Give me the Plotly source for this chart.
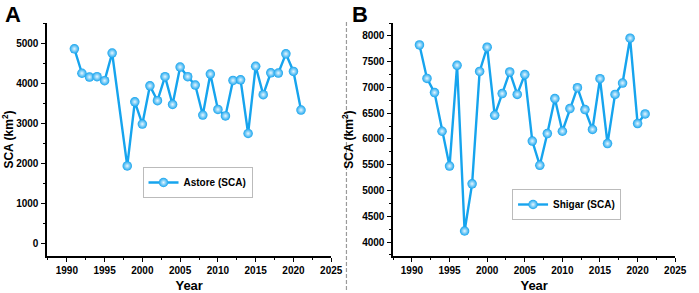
import plotly.graph_objects as go

years_a = [1991, 1992, 1993, 1994, 1995, 1996, 1998, 1999, 2000, 2001, 2002, 2003, 2004, 2005,
           2006, 2007, 2008, 2009, 2010, 2011, 2012, 2013, 2014, 2015, 2016, 2017, 2018, 2019,
           2020, 2021]
astore_sca = [4855, 4245, 4150, 4160, 4060, 4750, 1930, 3530, 2975, 3930, 3560, 4160, 3465, 4400,
              4160, 3950, 3200, 4225, 3340, 3180, 4065, 4080, 2740, 4420, 3710, 4255, 4250, 4730,
              4290, 3325]

years_b = list(range(1991, 2022))
shigar_sca = [7825, 7175, 6900, 6150, 5475, 7430, 4215, 5130, 7310, 7780, 6460, 6880, 7300, 6865,
              7250, 5960, 5490, 6105, 6785, 6150, 6590, 6995, 6570, 6185, 7170, 5910, 6865, 7085,
              7955, 6300, 6485]

xticks = [1990, 1995, 2000, 2005, 2010, 2015, 2020, 2025]
yticks_a = [0, 1000, 2000, 3000, 4000, 5000]
yticks_b = [4000, 4500, 5000, 5500, 6000, 6500, 7000, 7500, 8000]

BLUE = "#16A4EE"
FONT = "Liberation Sans"

W, H = 699, 293


def px(x):
    return x / W


def py(y):
    return 1 - y / H


fig = go.Figure()


def add_series(x, y, name, xa, ya, legend):
    fig.add_trace(go.Scatter(
        x=x, y=y, name=name, mode="lines+markers", xaxis=xa, yaxis=ya, legend=legend,
        line=dict(color=BLUE, width=2.4),
        marker=dict(size=9.5, color=BLUE, line=dict(width=0),
                    gradient=dict(type="radial", color="#E6F6FF")),
    ))


add_series(years_a, astore_sca, "<b>Astore (SCA)</b>", "x", "y", "legend")
add_series(years_b, shigar_sca, "<b>Shigar (SCA)</b>", "x2", "y2", "legend2")

axis_common = dict(
    showline=True, linecolor="black", linewidth=1.5, showgrid=False, zeroline=False,
    ticks="outside", ticklen=4, tickwidth=1.2, tickcolor="black",
    tickfont=dict(family=FONT, size=10, color="black", weight="bold"),
)

x_dom_a = [px(48), px(337)]
x_dom_b = [px(400), px(687)]
y_dom = [py(256), py(23)]

legend_common = dict(xanchor="left", yanchor="top", bgcolor="white", bordercolor="#BBBBBB",
                     borderwidth=1, font=dict(family=FONT, size=10, color="black"),
                     itemwidth=30, tracegroupgap=0)

fig.update_layout(
    width=W, height=H, margin=dict(l=0, r=0, t=0, b=0),
    paper_bgcolor="white", plot_bgcolor="white",
    font=dict(family=FONT, color="black"),
    xaxis=dict(domain=x_dom_a, range=[1987.4, 2025], tickvals=xticks, anchor="y",
               minor=dict(dtick=2.5, tick0=1990, ticks="outside", ticklen=2.5, tickcolor="black"),
               title=dict(text="<b>Year</b>", font=dict(size=13, family=FONT), standoff=6),
               **axis_common),
    yaxis=dict(domain=y_dom, range=[-320, 5500], tickvals=yticks_a, anchor="x",
               minor=dict(dtick=500, tick0=0, ticks="outside", ticklen=2.5, tickcolor="black"),
               title=dict(text="<b>SCA (km<sup>2</sup>)</b>", font=dict(size=12, family=FONT), standoff=6),
               ticklabelstandoff=1,
               **axis_common),
    xaxis2=dict(domain=x_dom_b, range=[1987.5, 2025], tickvals=xticks, anchor="y2",
                minor=dict(dtick=2.5, tick0=1990, ticks="outside", ticklen=2.5, tickcolor="black"),
                title=dict(text="<b>Year</b>", font=dict(size=13, family=FONT), standoff=6),
                **axis_common),
    yaxis2=dict(domain=y_dom, range=[3730, 8250], tickvals=yticks_b, anchor="x2",
                minor=dict(dtick=250, tick0=0, ticks="outside", ticklen=2.5, tickcolor="black"),
                title=dict(text="<b>SCA (km<sup>2</sup>)</b>", font=dict(size=12, family=FONT), standoff=6),
                ticklabelstandoff=1,
                **axis_common),
    legend=dict(x=px(145), y=py(167), **legend_common),
    legend2=dict(x=px(521), y=py(189), **legend_common),
    showlegend=True,
)

# legend shadows
fig.add_shape(type="rect", xref="paper", yref="paper", layer="below",
              x0=px(148), x1=px(243), y0=py(188), y1=py(170),
              fillcolor="#CFCFCF", line=dict(width=0))
fig.add_shape(type="rect", xref="paper", yref="paper", layer="below",
              x0=px(524), x1=px(620), y0=py(210), y1=py(192),
              fillcolor="#CFCFCF", line=dict(width=0))

# divider
fig.add_shape(type="line", xref="paper", yref="paper",
              x0=px(352.5), x1=px(352.5), y0=py(290), y1=py(22),
              line=dict(color="#9A9A9A", width=1.2, dash="4px,2px"))

fig.add_annotation(text="<b>A</b>", x=px(3), y=py(0), xref="paper", yref="paper",
                   xanchor="left", yanchor="top", showarrow=False,
                   font=dict(family=FONT, size=22, color="black"))
fig.add_annotation(text="<b>B</b>", x=px(356), y=py(0), xref="paper", yref="paper",
                   xanchor="left", yanchor="top", showarrow=False,
                   font=dict(family=FONT, size=22, color="black"))

fig.write_html(
    "out.html",
    config={"displayModeBar": False},
    post_script="document.body.style.margin='0';document.body.style.overflow='hidden';",
)
